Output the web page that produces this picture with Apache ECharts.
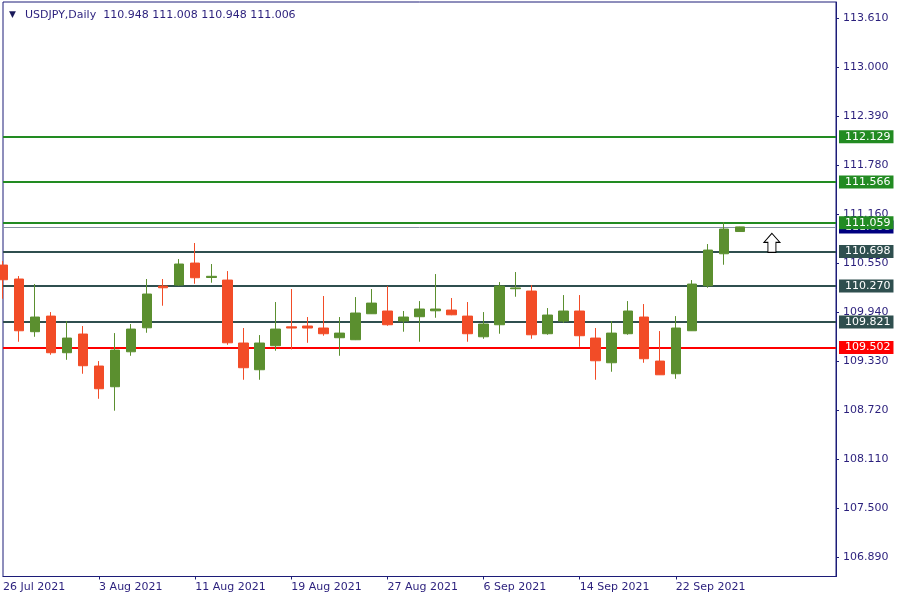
<!DOCTYPE html>
<html>
<head>
<meta charset="utf-8">
<script src="https://cdn.jsdelivr.net/npm/echarts@6/dist/echarts.min.js"></script>
<style>html,body{margin:0;padding:0;background:#fff}#c{width:900px;height:600px}</style>
</head>
<body>
<div id="c"></div>
<script>
// ---- data ----
const dates = ['26 Jul 2021','27 Jul 2021','28 Jul 2021','29 Jul 2021','30 Jul 2021',
  '2 Aug 2021','3 Aug 2021','4 Aug 2021','5 Aug 2021','6 Aug 2021','9 Aug 2021','10 Aug 2021',
  '11 Aug 2021','12 Aug 2021','13 Aug 2021','16 Aug 2021','17 Aug 2021','18 Aug 2021',
  '19 Aug 2021','20 Aug 2021','23 Aug 2021','24 Aug 2021','25 Aug 2021','26 Aug 2021',
  '27 Aug 2021','30 Aug 2021','31 Aug 2021','1 Sep 2021','2 Sep 2021','3 Sep 2021',
  '6 Sep 2021','7 Sep 2021','8 Sep 2021','9 Sep 2021','10 Sep 2021','13 Sep 2021',
  '14 Sep 2021','15 Sep 2021','16 Sep 2021','17 Sep 2021','20 Sep 2021','21 Sep 2021',
  '22 Sep 2021','23 Sep 2021','24 Sep 2021','27 Sep 2021','28 Sep 2021'];
const opens  = [110.530,110.356,109.699,109.894,109.437,109.670,109.271,109.013,109.449,109.748,
  110.268,110.281,110.555,110.375,110.343,109.558,109.225,109.524,109.760,109.770,
  109.745,109.624,109.599,109.923,109.957,109.832,109.886,109.960,109.969,109.894,
  109.636,109.786,110.235,110.206,109.674,109.832,109.957,109.620,109.312,109.674,
  109.882,109.333,109.175,109.711,110.272,110.671,110.948];
const closes = [110.347,109.711,109.882,109.437,109.620,109.275,108.988,109.470,109.732,110.169,
  110.247,110.543,110.372,110.390,109.561,109.250,109.558,109.732,109.745,109.745,
  109.674,109.682,109.932,110.056,109.786,109.882,109.982,109.982,109.910,109.674,
  109.795,110.268,110.245,109.661,109.907,109.957,109.649,109.337,109.682,109.957,
  109.362,109.162,109.745,110.293,110.717,110.979,111.006];
const lows   = [110.110,109.574,109.636,109.412,109.349,109.175,108.863,108.714,109.399,109.686,
  110.023,110.272,110.297,110.310,109.536,109.100,109.100,109.462,109.479,109.561,
  109.649,109.399,109.595,109.920,109.773,109.699,109.574,109.873,109.905,109.574,
  109.611,109.674,110.135,109.611,109.661,109.807,109.511,109.100,109.200,109.661,
  109.312,109.160,109.112,109.708,110.247,110.534,110.948];
const highs  = [110.580,110.393,110.293,109.944,109.832,109.770,109.333,109.682,109.795,110.356,
  110.356,110.605,110.805,110.543,110.455,109.745,109.657,110.069,110.231,109.882,
  110.144,109.882,110.131,110.231,110.268,109.957,110.081,110.418,110.119,110.069,
  109.944,110.318,110.443,110.281,109.994,110.156,110.156,109.745,109.832,110.081,
  110.044,109.707,109.894,110.343,110.792,111.066,111.008];
const emptySlots = 6;   // future bars shown empty at the right
const priceTicks = [106.890,107.500,108.110,108.720,109.330,109.940,110.550,111.160,111.780,112.390,113.000,113.610];
const resistanceLevels = [112.129, 111.566, 111.059];
const middleLevels = [110.698, 110.270, 109.821];
const supportLevels = [109.502];
const bidPrice = 111.006;
const arrowIndex = 48;
const arrowPrice = 110.807;
const titleText = 'USDJPY,Daily  110.948 111.008 110.948 111.006';

// ---- build ----
const cats = dates.concat(new Array(emptySlots).fill(''));
const candles = dates.map((d, i) => [opens[i], closes[i], lows[i], highs[i]]);
const NAVY = '#1c1c78';
const TXT = '#2a1f7c';
const FONT = 'DejaVu Sans';
const showTick = (i) => i % 6 === 0 && cats[i] !== '';

function level(v, color) {
  return {
    yAxis: v,
    lineStyle: { color: color, width: 2, type: 'solid' },
    label: { backgroundColor: color }
  };
}
const lineData = [];
lineData.push({ yAxis: bidPrice, lineStyle: { color: '#8593a3', width: 1, type: 'solid' }, label: { backgroundColor: '#000080' } });
resistanceLevels.forEach(v => lineData.push(level(v, '#228b22')));
middleLevels.forEach(v => lineData.push(level(v, '#2f4f4f')));
supportLevels.forEach(v => lineData.push(level(v, '#ff0000')));

const chart = echarts.init(document.getElementById('c'), null, { renderer: 'canvas' });
chart.setOption({
  animation: false,
  backgroundColor: '#ffffff',
  textStyle: { fontFamily: FONT },
  title: [
    { text: '▼', left: 4, top: 5, textStyle: { fontSize: 9, color: '#1a1a5a', fontWeight: 'normal', fontFamily: FONT } },
    { text: titleText, left: 20, top: 5, textStyle: { fontSize: 11, color: TXT, fontWeight: 'normal', fontFamily: FONT } }
  ],
  grid: { left: 3, right: 64, top: 2, bottom: 23.5, show: true, borderColor: NAVY, borderWidth: 1, backgroundColor: '#fff' },
  xAxis: {
    type: 'category',
    data: cats,
    boundaryGap: false,
    axisLine: { show: true, lineStyle: { color: NAVY, width: 1 } },
    axisTick: { show: true, interval: (i) => showTick(i) && i > 0, length: 3, lineStyle: { color: NAVY } },
    axisLabel: { interval: (i) => showTick(i), align: 'left', margin: 5, fontSize: 11, color: TXT, fontFamily: FONT, showMinLabel: true, hideOverlap: false },
    splitLine: { show: false }
  },
  yAxis: {
    type: 'value',
    position: 'right',
    min: 106.647,
    max: 113.81,
    scale: true,
    axisLine: { show: true, lineStyle: { color: NAVY, width: 1 } },
    axisTick: { show: true, length: 3, customValues: priceTicks, lineStyle: { color: NAVY } },
    axisLabel: { customValues: priceTicks, margin: 7, fontSize: 11, color: TXT, fontFamily: FONT, formatter: (v) => v.toFixed(3) },
    splitLine: { show: false }
  },
  series: [
    {
      type: 'line',
      z: 1,
      data: cats.map(() => null),
      silent: true,
      markLine: {
        silent: true,
        symbol: ['none', 'none'],
        precision: 3,
        z: 1,
        label: {
          show: true,
          position: 'end',
          distance: 3,
          color: '#ffffff',
          fontSize: 11,
          fontFamily: FONT,
          padding: [1, 3, 0, 6],
          height: 12,
          lineHeight: 12,
          formatter: (p) => Number(p.value).toFixed(3)
        },
        emphasis: { disabled: true },
        data: lineData
      }
    },
    {
      type: 'candlestick',
      z: 10,
      data: candles,
      barWidth: 10,
      clip: true,
      itemStyle: {
        color: '#5b8f2f',
        color0: '#f24c27',
        borderColor: '#5b8f2f',
        borderColor0: '#f24c27',
        borderWidth: 1
      }
    },
    {
      type: 'line',
      z: 12,
      data: cats.map(() => null),
      silent: true,
      markPoint: {
        symbol: 'path://M8,0L16,9L12,9L12,19L4,19L4,9L0,9Z',
        symbolSize: [16, 19],
        symbolKeepAspect: false,
        itemStyle: { color: '#ffffff', borderColor: '#000000', borderWidth: 1 },
        label: { show: false },
        data: [{ coord: [arrowIndex, arrowPrice] }]
      }
    }
  ]
});
</script>
</body>
</html>
